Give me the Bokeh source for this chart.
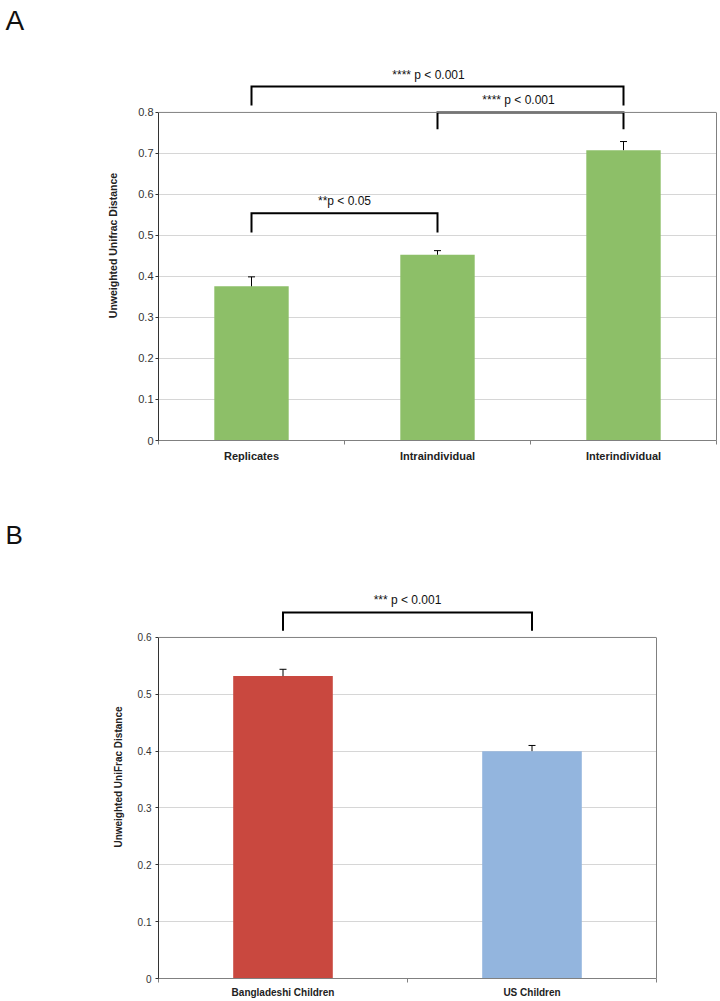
from bokeh.plotting import figure
from bokeh.layouts import column
from bokeh.models import Range1d, FixedTicker, LinearAxis, Span, ColumnDataSource, Title
from bokeh.core.properties import value
from bokeh.embed import file_html
from bokeh.resources import INLINE

# ---------------- data ----------------
categories_a = ["Replicates", "Intraindividual", "Interindividual"]
means_a = [0.376, 0.453, 0.708]
errors_a = [0.023, 0.010, 0.021]
yticks_a = [0, 0.1, 0.2, 0.3, 0.4, 0.5, 0.6, 0.7, 0.8]
ytick_labels_a = ["0", "0.1", "0.2", "0.3", "0.4", "0.5", "0.6", "0.7", "0.8"]
pairs_a = [(0, 2), (1, 2), (0, 1)]
bracket_tops_a = [0.863, 0.800, 0.554]
bracket_feet_a = [0.817, 0.759, 0.507]
bracket_texts_a = ["**** p < 0.001", "**** p < 0.001", "**p < 0.05"]

categories_b = ["Bangladeshi Children", "US Children"]
means_b = [0.532, 0.400]
errors_b = [0.012, 0.010]
yticks_b = [0, 0.1, 0.2, 0.3, 0.4, 0.5, 0.6]
ytick_labels_b = ["0", "0.1", "0.2", "0.3", "0.4", "0.5", "0.6"]
pairs_b = [(0, 1)]
bracket_tops_b = [0.644]
bracket_feet_b = [0.612]
bracket_texts_b = ["*** p < 0.001"]

FONT = "Liberation Sans"


def make_panel(letter, cats, means, errs, colors, yticks, ylabels, pairs, tops, feet, texts,
               text_dx, ylab, frame_w, frame_h, y_end, borders, fs_tick, fs_cat, fs_ylab,
               ylab_standoff, tick_standoff, cat_standoff, letter_size, letter_gap):
    n = len(cats)
    centers = list(range(n))
    bounds = [i - 0.5 for i in range(n + 1)]
    p = figure(frame_width=frame_w, frame_height=frame_h,
               x_range=Range1d(-0.5, n - 0.5), y_range=Range1d(0, y_end),
               output_backend="svg", toolbar_location=None,
               min_border_left=borders[0], min_border_right=borders[1],
               min_border_top=borders[2], min_border_bottom=borders[3],
               outline_line_color=None, background_fill_color="white")
    ymax = max(yticks)

    # panel letter as (outermost) title, with an invisible spacer title beneath it
    p.title.text = letter
    p.title.align = "left"
    p.title.offset = -(borders[0] - 5)
    p.title.text_font = FONT
    p.title.text_font_style = "normal"
    p.title.text_font_size = letter_size
    p.title.text_color = "#111111"
    p.title.standoff = 0
    p.add_layout(Title(text=" ", text_font_size="1px", standoff=letter_gap), "above")

    # grid
    p.xgrid.visible = False
    p.ygrid.ticker = FixedTicker(ticks=[t for t in yticks if 0 < t < ymax])
    p.ygrid.grid_line_color = "#d6d6d6"
    p.ygrid.grid_line_width = 1
    p.add_layout(Span(location=ymax, dimension="width", line_color="#808080", line_width=1))

    # y axis
    ya = p.yaxis[0]
    ya.ticker = FixedTicker(ticks=yticks)
    ya.major_label_overrides = {t: l for t, l in zip(yticks, ylabels)}
    ya.bounds = (0, ymax)
    ya.axis_line_color = "#333333"
    ya.major_tick_line_color = "#333333"
    ya.major_tick_out = 3
    ya.major_tick_in = 0
    ya.minor_tick_line_color = None
    ya.major_label_standoff = tick_standoff
    ya.major_label_text_font = FONT
    ya.major_label_text_font_size = fs_tick
    ya.major_label_text_color = "#333333"
    ya.axis_label = ylab
    ya.axis_label_text_font = FONT
    ya.axis_label_text_font_style = "bold"
    ya.axis_label_text_font_size = fs_ylab
    ya.axis_label_text_color = "#222222"
    ya.axis_label_standoff = ylab_standoff

    # right border
    ra = LinearAxis(ticker=FixedTicker(ticks=[]), bounds=(0, ymax),
                    axis_line_color="#808080", major_tick_line_color=None,
                    minor_tick_line_color=None, major_label_text_font_size="0px",
                    major_tick_out=0, major_tick_in=0, major_label_standoff=0)
    p.add_layout(ra, "right")

    # x axis
    xa = p.xaxis[0]
    xa.ticker = FixedTicker(ticks=centers, minor_ticks=bounds)
    xa.major_label_overrides = {c: name for c, name in zip(centers, cats)}
    xa.axis_line_color = "#808080"
    xa.major_tick_line_color = None
    xa.major_tick_out = 0
    xa.major_tick_in = 0
    xa.minor_tick_line_color = "#808080"
    xa.minor_tick_out = 4
    xa.minor_tick_in = 0
    xa.major_label_standoff = cat_standoff
    xa.major_label_text_font = FONT
    xa.major_label_text_font_style = "bold"
    xa.major_label_text_font_size = fs_cat
    xa.major_label_text_color = "#222222"

    # bars
    src = ColumnDataSource(dict(x=centers, top=means,
                                up=[m + e for m, e in zip(means, errs)],
                                color=colors))
    p.vbar(x="x", top="top", width=0.4, source=src, fill_color="color", line_color=None)
    p.segment(x0="x", y0="top", x1="x", y1="up", source=src, line_color="black", line_width=1)
    p.scatter(x="x", y="up", source=src, marker="dash", size=7, line_color="black", line_width=1)

    # significance brackets
    xs = [[i, i, j, j] for i, j in pairs]
    ys = [[f, t, t, f] for t, f in zip(tops, feet)]
    p.multi_line(xs=xs, ys=ys, line_color="black", line_width=2, line_join="miter")
    tsrc = ColumnDataSource(dict(x=[(i + j) / 2 for i, j in pairs], y=tops, text=texts, dx=text_dx))
    p.text(x="x", y="y", text="text", x_offset="dx", source=tsrc,
           text_align="center", text_baseline="bottom", y_offset=-5,
           text_font=value(FONT), text_font_size="12px", text_color="#111111")
    return p


pA = make_panel("A", categories_a, means_a, errors_a, ["#8dbf68"] * 3, yticks_a, ytick_labels_a,
                pairs_a, bracket_tops_a, bracket_feet_a, bracket_texts_a, [-9, -12, 0],
                "Unweighted Unifrac Distance", 558, 390, 0.951, (158, 4, 50, 65),
                "11px", "11px", "10.5px", 16, 2, 5, "28px", 12)

pB = make_panel("B", categories_b, means_b, errors_b, ["#c9483f", "#93b5de"], yticks_b, ytick_labels_b,
                pairs_b, bracket_tops_b, bracket_feet_b, bracket_texts_b, [0],
                "Unweighted UniFrac Distance", 498, 403, 0.709, (158, 64, 70, 23),
                "10px", "10px", "10px", 11, 4, 4, "26px", 23)

layout = column(pA, pB, spacing=0)
open("out.html", "w").write(file_html(layout, INLINE))
